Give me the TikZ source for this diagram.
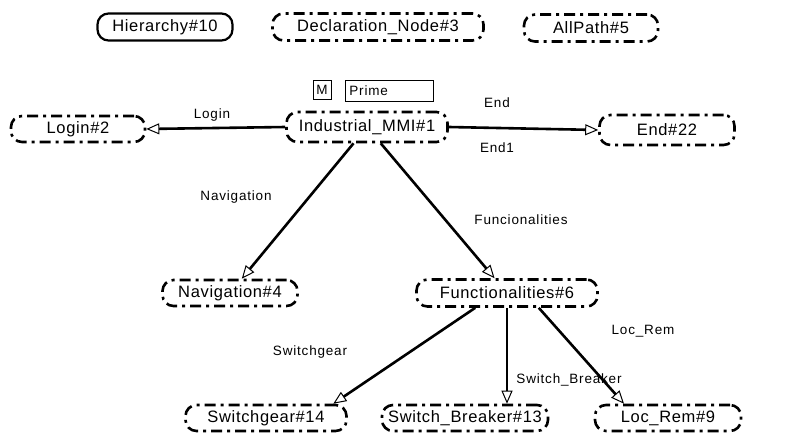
\documentclass[tikz,border=0pt]{standalone}
\usepackage{fontspec}
\setmainfont{Liberation Sans}
\newfontfamily\statefont[LetterSpace=4]{Liberation Sans}
\newfontfamily\labelfont[LetterSpace=6]{Liberation Sans}
\usetikzlibrary{arrows.meta}
\begin{document}
\begin{tikzpicture}[x=1pt,y=-1pt,
  statebox/.style={draw, line width=2.6pt, rounded corners=11pt,
    dash pattern=on 11pt off 5pt on 3pt off 5pt,
    minimum height=27pt, inner sep=0pt,
    font=\statefont\fontsize{16.5}{18}\selectfont},
  rootbox/.style={statebox, solid, line width=2.2pt},
  edge/.style={line width=2.6pt,
    -{Triangle[open, length=13pt, width=11pt, line width=1pt]}},
  lbl/.style={font=\labelfont\fontsize{13.5}{15}\selectfont, inner sep=0pt},
  tagbox/.style={draw, line width=0.8pt, inner sep=0pt,
    font=\labelfont\fontsize{13.5}{15}\selectfont}]
\useasboundingbox (0,0) rectangle (791,441);

% top row
\node[rootbox,  minimum width=135pt] (hier) at (165,27) {Hierarchy\#10};
\node[statebox, minimum width=211pt] (decl) at (378,27) {Declaration\_Node\#3};
\node[statebox, minimum width=134pt] (allp) at (591,28) {AllPath\#5};

% main state and its tags
\node[statebox, minimum width=161pt, minimum height=30pt] (ind) at (367,127) {Industrial\_MMI\#1};
\node[tagbox, minimum width=18pt, minimum height=19pt] (tagm) at (322,90) {M};
\node[tagbox, minimum width=88pt, minimum height=21pt, anchor=west,
      text width=80pt, align=left] (tagp) at (345,91) {Prime};

\node[statebox, minimum width=134pt, minimum height=26pt] (login) at (78,129) {Login\#2};
\node[statebox, minimum width=135pt, minimum height=30pt] (end) at (667,130) {End\#22};

\node[statebox, minimum width=135pt, minimum height=26pt] (nav) at (230,293) {Navigation\#4};
\node[statebox, minimum width=181pt] (func) at (507,293) {Functionalities\#6};

\node[statebox, minimum width=161pt, minimum height=26pt] (sg) at (266,418) {Switchgear\#14};
\node[statebox, minimum width=166pt, minimum height=26pt] (sb) at (465,418) {Switch\_Breaker\#13};
\node[statebox, minimum width=146pt, minimum height=26pt] (lr) at (668,418) {Loc\_Rem\#9};

% transitions
\draw[edge] (ind.west) -- (login.east);
\draw[edge] (ind.east) -- (end.west);
\draw[edge] (ind) -- (nav);
\draw[edge] (ind) -- (func);
\draw[edge] (func.-155) -- (sg.12);
\draw[edge] (func.south) -- (func.south |- sb.north);
\draw[edge] (func.-25) -- (lr.162);

% transition labels
\node[lbl] (l1) at (212,115) {Login};
\node[lbl] (l2) at (497,103) {End};
\node[lbl] (l3) at (497,148) {End1};
\node[lbl] (l4) at (236,197) {Navigation};
\node[lbl] (l5) at (521,220) {Funcionalities};
\node[lbl] (l6) at (310,352) {Switchgear};
\node[lbl] (l7) at (569,380) {Switch\_Breaker};
\node[lbl] (l8) at (643,331) {Loc\_Rem};
\end{tikzpicture}
\end{document}
